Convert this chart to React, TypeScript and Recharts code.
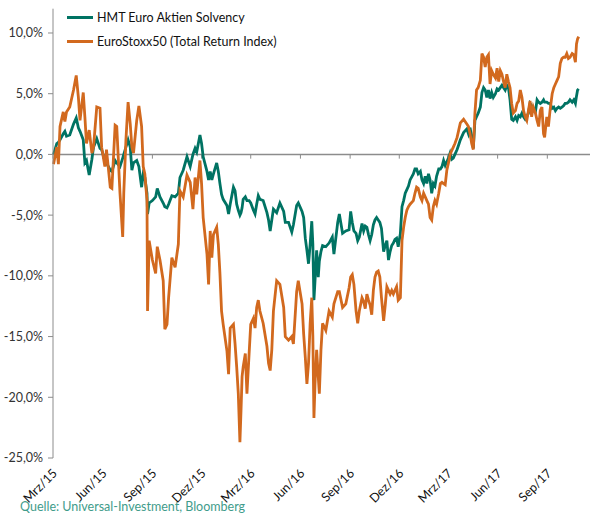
import { LineChart, Line, XAxis, YAxis, ReferenceLine } from 'recharts';

// days since 1 Mar 2015
const DAYS = [
  1, 7, 10, 13, 19, 22, 25, 31, 38, 43, 47, 50, 56, 59, 62, 67, 72, 75, 81, 87, 90, 96, 99, 106, 109,
  115, 118, 124, 129, 131, 135, 139, 143, 146, 149, 155, 159, 164, 167, 170, 174, 175, 178, 184, 190, 193,
  198, 204, 207, 211, 214, 220, 226, 232, 235, 241, 248, 254, 259, 263, 266, 272, 275, 278, 285, 288, 291,
  294, 297, 303, 306, 309, 312, 315, 322, 325, 328, 334, 337, 340, 343, 346, 348, 350, 352, 356, 359, 363,
  366, 371, 374, 377, 380, 383, 389, 396, 399, 402, 405, 408, 414, 420, 427, 430, 436, 442, 445, 451, 454,
  461, 464, 467, 470, 473, 476, 479, 481, 483, 485, 488, 491, 493, 496, 499, 505, 511, 517, 520, 527, 530,
  536, 542, 548, 551, 554, 557, 561, 564, 567, 572, 575, 578, 581, 584, 587, 590, 593, 596, 599, 602, 605,
  608, 612, 615, 618, 621, 624, 627, 630, 633, 636, 639, 643, 646, 649, 652, 655, 658, 661, 667, 670, 673,
  676, 680, 683, 686, 689, 692, 695, 698, 701, 704, 707, 710, 714, 717, 720, 723, 726, 729, 732, 735, 738,
  741, 744, 748, 751, 754, 760, 766, 769, 772, 775, 778, 781, 784, 787, 791, 794, 797, 800, 803, 806, 809,
  812, 815, 819, 822, 825, 828, 831, 834, 837, 840, 843, 846, 849, 852, 856, 859, 862, 865, 868, 871, 874,
  877, 880, 883, 886, 889, 893, 896, 899, 902, 905, 908, 910, 914, 917, 920, 924, 927, 930, 933, 936, 939,
  942, 945, 948, 951, 954, 957, 961, 964, 967, 969, 971, 973,
];

const HMT = [
  0.0, 0.9, 1.0, 1.2, 1.7, 1.9, 1.5, 1.6, 2.5, 3.0, 2.2, 1.9, 1.2, -0.7, -0.5, -1.7, -0.4, 0.6, 1.3, 0.5, 0.4, -0.5, -0.7, -1.3, -1.4,
  -0.5, -0.7, -1.0, -0.3, 0.0, 0.6, 1.2, 0.6, -1.3, -0.7, -0.5, -1.0, -2.7, -1.6, -1.9, -3.2, -4.9, -4.0, -3.8, -3.5, -2.8,
  -3.5, -4.0, -4.3, -4.4, -4.1, -3.4, -3.5, -3.2, -1.9, -1.3, -0.2, -1.0, 0.0, 0.5, 0.2, 1.6, 0.9, -0.2, -1.4, -2.1, -1.4,
  -2.1, -1.6, -0.7, -1.4, -2.4, -3.3, -3.7, -4.2, -4.9, -4.1, -2.7, -3.0, -4.1, -4.6, -5.0, -4.8, -4.4, -3.7, -3.5, -3.8, -3.8,
  -4.0, -4.6, -4.9, -4.1, -3.4, -3.7, -3.8, -4.8, -5.4, -6.3, -5.4, -4.5, -4.8, -4.0, -4.7, -5.6, -5.6, -6.4, -5.8, -4.2, -4.0,
  -4.7, -5.2, -6.9, -7.9, -9.0, -7.4, -5.5, -7.4, -12.0, -10.4, -7.9, -10.1, -8.8, -8.0, -7.5, -7.6, -7.3, -6.8, -8.2, -5.6, -4.9,
  -6.5, -6.3, -6.2, -4.7, -5.6, -6.3, -6.5, -7.1, -6.8, -5.7, -6.3, -5.9, -6.0, -6.6, -7.1, -6.6, -5.8, -5.4, -5.2, -5.4, -5.6,
  -6.1, -8.0, -7.5, -7.1, -8.7, -8.0, -7.5, -7.3, -7.0, -6.9, -7.6, -6.5, -4.3, -3.8, -3.2, -2.9, -2.6, -2.1, -1.6, -1.2, -1.2,
  -1.6, -1.4, -2.1, -2.4, -1.8, -2.4, -1.6, -2.1, -3.2, -2.4, -2.6, -1.8, -1.2, -1.2, -1.0, -0.5, -0.9, -0.6, -0.3, 0.1, -0.4,
  -0.3, 0.0, 0.4, 0.8, 1.2, 1.8, 2.1, 1.7, 2.2, 1.4, 0.5, 2.8, 3.1, 3.4, 3.9, 5.1, 5.5, 5.3, 4.7, 5.3, 4.6,
  5.1, 4.7, 5.0, 5.4, 5.3, 5.5, 5.7, 5.5, 5.3, 5.7, 5.5, 4.5, 2.9, 2.8, 3.1, 2.8, 3.2, 3.1, 3.4, 3.1, 2.9,
  3.1, 3.4, 4.2, 4.0, 3.8, 3.5, 4.5, 4.3, 4.2, 4.3, 4.5, 4.3, 4.3, 4.2, 4.2, 3.8, 3.9, 3.6, 3.8, 3.9, 3.8,
  3.9, 4.0, 4.2, 4.2, 4.3, 4.5, 4.3, 4.5, 4.2, 4.8, 5.3, 5.4,
];

const ESX = [
  -0.8, 0.6, -0.8, 2.3, 3.5, 2.7, 3.5, 3.9, 5.3, 6.5, 4.7, 2.8, 5.1, 3.1, 0.9, 2.0, 0.1, 0.6, 3.9, 3.8, 0.6, -1.0, 0.4, -2.7, -2.8,
  2.4, 2.3, -3.2, -6.8, -3.2, 1.2, 4.3, 2.5, 0.6, 0.1, 2.8, 4.0, 2.3, -1.0, -1.6, -3.8, -12.9, -7.1, -8.7, -9.8, -7.6,
  -8.7, -10.4, -14.4, -14.0, -11.8, -8.5, -9.3, -7.4, -3.0, -3.5, -1.7, -2.3, -4.5, -1.9, -3.3, -0.5, -2.4, -5.2, -8.2, -10.7, -6.3,
  -8.5, -6.6, -6.0, -7.4, -9.8, -12.9, -14.0, -16.2, -18.1, -14.3, -14.0, -15.6, -17.5, -19.7, -23.7, -21.1, -18.3, -17.5, -16.4, -19.7, -16.4,
  -14.0, -13.5, -14.3, -12.6, -12.0, -12.9, -13.9, -15.8, -17.2, -17.8, -16.1, -12.9, -10.4, -10.7, -12.6, -15.0, -15.3, -15.0, -15.6, -11.3, -10.4,
  -12.3, -14.8, -16.7, -18.9, -17.2, -13.9, -11.8, -15.0, -21.7, -18.9, -16.1, -18.3, -19.7, -16.1, -13.9, -14.5, -12.9, -13.4, -12.3, -11.3, -11.3,
  -12.6, -12.3, -11.0, -10.1, -9.9, -10.7, -12.9, -13.9, -12.9, -11.8, -12.1, -12.7, -11.5, -12.0, -12.4, -13.2, -11.2, -10.1, -9.7, -9.6, -10.1,
  -11.8, -13.7, -12.4, -10.9, -11.2, -11.5, -11.2, -11.5, -11.2, -10.9, -12.0, -11.8, -7.1, -6.0, -5.2, -4.6, -4.3, -4.1, -3.8, -3.2, -2.7,
  -2.8, -3.5, -3.8, -3.2, -3.5, -3.8, -4.1, -5.2, -5.4, -4.3, -3.8, -4.1, -3.2, -2.4, -2.3, -2.4, -2.5, -1.3, -0.7, 0.0, 0.3,
  0.6, 0.9, 1.4, 2.0, 2.6, 2.9, 2.5, 2.3, 1.7, 0.9, 0.4, 3.4, 5.3, 5.5, 6.1, 8.3, 8.0, 7.2, 8.0, 8.2, 5.8,
  6.9, 6.6, 6.3, 7.1, 6.0, 6.9, 6.6, 6.0, 5.5, 6.6, 6.0, 5.5, 4.2, 3.4, 3.6, 4.2, 4.4, 5.3, 4.7, 3.6, 3.1,
  2.8, 3.6, 4.4, 3.1, 3.9, 3.4, 2.8, 2.3, 3.6, 3.9, 1.7, 1.4, 3.1, 2.3, 3.6, 5.0, 5.5, 5.8, 6.1, 6.4, 7.5,
  7.9, 8.0, 8.0, 8.3, 7.9, 8.0, 8.3, 8.2, 7.6, 9.1, 9.5, 9.7,
];

const TICK_DAYS = [0, 92, 184, 275, 366, 458, 550, 641, 731, 823, 915];
const TICK_LABELS = ['Mrz/15', 'Jun/15', 'Sep/15', 'Dez/15', 'Mrz/16', 'Jun/16', 'Sep/16', 'Dez/16', 'Mrz/17', 'Jun/17', 'Sep/17'];
const Y_TICKS = [-25, -20, -15, -10, -5, 0, 5, 10];

const SERIES = [
  { key: 'hmt', name: 'HMT Euro Aktien Solvency', color: '#007363' },
  { key: 'esx', name: 'EuroStoxx50 (Total Return Index)', color: '#d2691e' },
];

const data = DAYS.map((d, i) => ({ d, hmt: HMT[i], esx: ESX[i] }));

const FONT = 'Lato, "Liberation Sans", sans-serif';
const AXIS_GREY = '#8c8c8c';

const fmtPct = (v: number) => v.toFixed(1).replace('.', ',') + '%';

const XTick = (props: any) => {
  const { x, y, payload } = props;
  const idx = TICK_DAYS.indexOf(payload.value);
  const ax = x + 5;
  const ay = y + 16;
  return (
    <text x={ax} y={ay} transform={`rotate(-45, ${ax}, ${ay})`} textAnchor="end" fontSize={12.5} fill="#111" fontFamily={FONT}>
      {TICK_LABELS[idx]}
    </text>
  );
};

export default function App() {
  return (
    <div style={{ position: 'absolute', left: 0, top: 0, width: 592, height: 515, background: '#fff' }}>
      <LineChart width={592} height={515} data={data} margin={{ top: 8.7, right: 2, bottom: 0, left: 0 }}>
        <XAxis
          dataKey="d"
          type="number"
          domain={[0, 994]}
          ticks={TICK_DAYS}
          interval={0}
          axisLine={false}
          tickLine={false}
          tickSize={0}
          tickMargin={0}
          height={57}
          tick={<XTick />}
        />
        <YAxis
          domain={[-25, 12]}
          ticks={Y_TICKS}
          allowDataOverflow
          width={53}
          tickFormatter={fmtPct}
          axisLine={{ stroke: AXIS_GREY }}
          tickLine={{ stroke: AXIS_GREY }}
          tickSize={5}
          tickMargin={5}
          tick={{ fontSize: 12.5, fill: '#333', fontFamily: FONT }}
        />
        <ReferenceLine y={0} stroke={AXIS_GREY} strokeWidth={1.5} />
        {TICK_DAYS.map((t) => (
          <ReferenceLine
            key={t}
            segment={[{ x: t, y: 0 }, { x: t, y: -0.35 }]}
            stroke={AXIS_GREY}
            strokeWidth={1}
          />
        ))}
        {SERIES.map((s) => (
          <Line
            key={s.key}
            dataKey={s.key}
            name={s.name}
            stroke={s.color}
            strokeWidth={2.8}
            dot={false}
            type="linear"
            isAnimationActive={false}
          />
        ))}
      </LineChart>
      <div style={{ position: 'absolute', left: 67, top: 5, fontFamily: FONT, fontSize: 12.5, color: '#111' }}>
        {SERIES.map((s) => (
          <div key={s.key} style={{ display: 'flex', alignItems: 'center', height: 24 }}>
            <div style={{ width: 26, height: 3, backgroundColor: s.color, marginRight: 4 }} />
            <span>{s.name}</span>
          </div>
        ))}
      </div>
      <div
        style={{
          position: 'absolute',
          left: 20,
          top: 499,
          fontFamily: FONT,
          fontSize: 12.5,
          color: '#3f9c8b',
          whiteSpace: 'nowrap',
        }}
      >
        Quelle: Universal-Investment, Bloomberg
      </div>
    </div>
  );
}
